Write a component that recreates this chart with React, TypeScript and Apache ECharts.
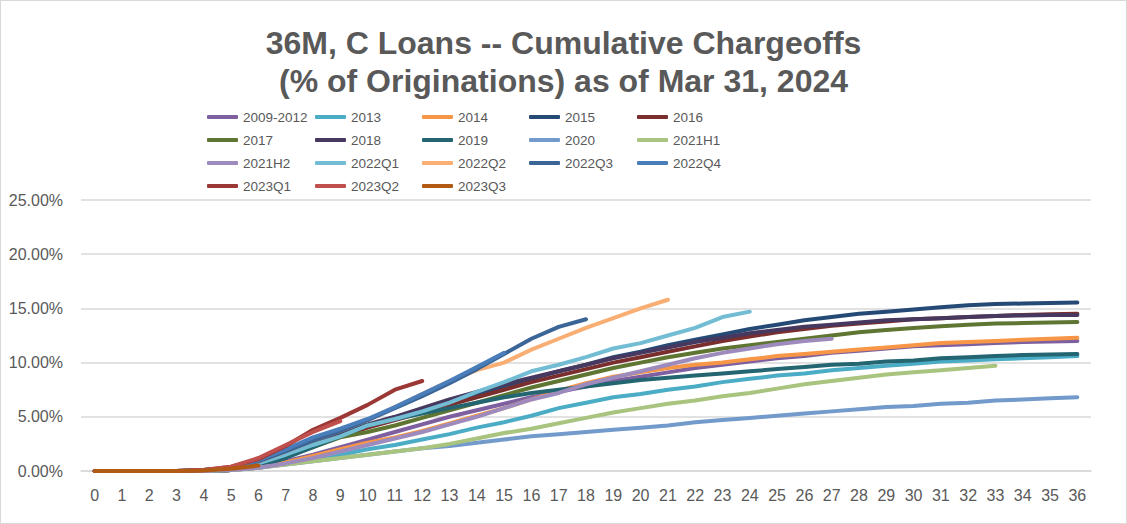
import React, { useEffect, useRef } from "react";
import * as echarts from "echarts";

const months = Array.from({ length: 37 }, (_, i) => String(i));
const yTicks = [0, 5, 10, 15, 20, 25];

const s2009_2012 = [0,0,0,0,0,0.1,0.4,0.9,1.5,2.2,2.9,3.6,4.3,5.0,5.6,6.2,6.8,7.3,7.8,8.3,8.7,9.1,9.5,9.8,10.1,10.4,10.6,10.9,11.1,11.3,11.5,11.6,11.7,11.8,11.9,11.95,12.0];
const s2013 = [0,0,0,0,0,0.1,0.3,0.7,1.1,1.5,2.0,2.4,2.9,3.4,4.0,4.5,5.1,5.8,6.3,6.8,7.1,7.5,7.8,8.2,8.5,8.8,9.0,9.3,9.5,9.7,9.9,10.1,10.2,10.3,10.4,10.5,10.6];
const s2014 = [0,0,0,0,0,0.1,0.3,0.8,1.4,2.0,2.6,3.1,3.7,4.4,5.1,5.8,6.6,7.4,8.1,8.7,9.1,9.5,9.8,10.0,10.3,10.6,10.8,11.0,11.2,11.4,11.6,11.8,11.9,12.0,12.1,12.2,12.3];
const s2015 = [0,0,0,0,0,0.1,0.5,1.4,2.4,3.4,4.2,4.9,5.7,6.4,7.1,7.8,8.5,9.2,9.8,10.5,11.0,11.6,12.1,12.6,13.1,13.5,13.9,14.2,14.5,14.7,14.9,15.1,15.3,15.4,15.45,15.5,15.55];
const s2016 = [0,0,0,0,0,0.1,0.5,1.4,2.3,3.2,4.0,4.7,5.4,6.1,6.8,7.5,8.2,8.8,9.4,10.0,10.5,11.0,11.5,12.0,12.4,12.8,13.1,13.4,13.6,13.8,14.0,14.1,14.2,14.3,14.4,14.45,14.5];
const s2017 = [0,0,0,0,0,0.1,0.5,1.3,2.2,3.1,3.6,4.2,4.9,5.6,6.3,7.0,7.7,8.3,8.9,9.5,10.0,10.5,10.9,11.3,11.6,11.9,12.2,12.5,12.8,13.0,13.2,13.35,13.5,13.6,13.65,13.7,13.75];
const s2018 = [0,0,0,0,0,0.1,0.6,1.6,2.6,3.6,4.3,5.0,5.8,6.6,7.3,8.0,8.6,9.2,9.8,10.4,10.9,11.4,11.9,12.3,12.7,13.0,13.3,13.5,13.7,13.9,14.0,14.1,14.2,14.3,14.35,14.4,14.4];
const s2019 = [0,0,0,0,0,0.1,0.4,1.2,2.2,3.2,4.2,4.8,5.3,5.8,6.3,6.8,7.2,7.5,7.8,8.1,8.4,8.6,8.8,9.0,9.2,9.4,9.6,9.8,9.9,10.1,10.2,10.4,10.5,10.6,10.7,10.75,10.8];
const s2020 = [0,0,0,0,0,0.1,0.3,0.6,0.9,1.2,1.5,1.8,2.1,2.3,2.6,2.9,3.2,3.4,3.6,3.8,4.0,4.2,4.5,4.7,4.9,5.1,5.3,5.5,5.7,5.9,6.0,6.2,6.3,6.5,6.6,6.7,6.8];
const s2021H1 = [0,0,0,0,0,0.1,0.3,0.6,0.9,1.2,1.5,1.8,2.1,2.5,3.0,3.5,3.9,4.4,4.9,5.4,5.8,6.2,6.5,6.9,7.2,7.6,8.0,8.3,8.6,8.9,9.1,9.3,9.5,9.7];
const s2021H2 = [0,0,0,0,0,0.1,0.3,0.7,1.2,1.8,2.4,3.0,3.6,4.3,5.0,5.8,6.6,7.2,8.0,8.6,9.2,9.8,10.4,10.9,11.3,11.7,12.0,12.2];
const s2022Q1 = [0,0,0,0,0.1,0.2,0.7,1.5,2.4,3.2,4.2,4.8,5.5,6.3,7.3,8.2,9.2,9.8,10.5,11.3,11.8,12.5,13.2,14.2,14.7];
const s2022Q2 = [0,0,0,0,0.1,0.3,0.9,1.8,2.8,3.7,4.7,5.9,7.1,8.3,9.3,10.0,11.2,12.2,13.2,14.1,15.0,15.8];
const s2022Q3 = [0,0,0,0,0.1,0.3,0.9,1.8,2.8,3.7,4.7,5.8,6.9,8.1,9.4,10.8,12.2,13.3,14.0];
const s2022Q4 = [0,0,0,0,0.1,0.3,1.0,2.0,3.1,3.9,4.8,5.9,7.1,8.3,9.6,10.9];
const s2023Q1 = [0,0,0,0,0.1,0.4,1.1,2.3,3.8,4.9,6.1,7.5,8.3];
const s2023Q2 = [0,0,0,0,0.1,0.4,1.2,2.4,3.6,4.6];
const s2023Q3 = [0,0,0,0,0.05,0.2,0.5];

const seriesNames = ["2009-2012","2013","2014","2015","2016","2017","2018","2019","2020","2021H1","2021H2","2022Q1","2022Q2","2022Q3","2022Q4","2023Q1","2023Q2","2023Q3"];
const seriesData = [s2009_2012,s2013,s2014,s2015,s2016,s2017,s2018,s2019,s2020,s2021H1,s2021H2,s2022Q1,s2022Q2,s2022Q3,s2022Q4,s2023Q1,s2023Q2,s2023Q3];
const seriesColors = ["#7E60A0","#4BACC6","#F79646","#264A76","#7A2E2D","#5F7532","#46385F","#236570","#729ACA","#A9C47F","#9D8BBE","#72BCD4","#F9AE73","#3A6596","#4A7EBB","#9B3835","#C0504D","#B05A14"];

const FONT = "'Liberation Sans', Arial, sans-serif";
const GREY = "#595959";

export default function App() {
  const ref = useRef<HTMLDivElement>(null);
  useEffect(() => {
    document.body.style.margin = "0";
    const chart = echarts.init(ref.current!, null, { renderer: "svg" });
    const colX = [206, 314, 421, 528, 636];
    const rowY = [117, 140, 163, 186];
    const legends = seriesNames.map((name, i) => ({
      data: [name],
      left: colX[i % 5],
      top: rowY[Math.floor(i / 5)] - 8,
      padding: 0,
      icon: "roundRect",
      itemWidth: 31,
      itemHeight: 4,
      itemGap: 0,
      selectedMode: false,
      textStyle: { color: GREY, fontSize: 13.5, fontFamily: FONT, padding: [0, 0, 0, 0] },
    }));
    chart.setOption({
      animation: false,
      backgroundColor: "#ffffff",
      title: {
        text: "36M, C Loans -- Cumulative Chargeoffs\n(% of Originations) as of Mar 31, 2024",
        left: "center",
        top: 18,
        textStyle: { color: GREY, fontSize: 32, fontWeight: "bold", fontFamily: FONT, lineHeight: 38 },
      },
      legend: legends,
      grid: { left: 80, right: 35, top: 199, bottom: 52 },
      xAxis: {
        type: "category",
        data: months,
        boundaryGap: true,
        axisLine: { lineStyle: { color: "#d9d9d9", width: 1.5 } },
        axisTick: { show: false },
        axisLabel: { color: GREY, fontSize: 16, fontFamily: FONT, margin: 16, interval: 0 },
      },
      yAxis: {
        type: "value",
        min: yTicks[0],
        max: yTicks[yTicks.length - 1],
        interval: 5,
        axisLine: { show: false },
        axisTick: { show: false },
        splitLine: { lineStyle: { color: "#d9d9d9", width: 1.5 } },
        axisLabel: { color: GREY, fontSize: 16, fontFamily: FONT, margin: 18, formatter: (v: number) => v.toFixed(2) + "%" },
      },
      series: seriesNames.map((name, i) => ({
        name,
        type: "line",
        data: seriesData[i],
        showSymbol: false,
        symbol: "none",
        smooth: false,
        color: seriesColors[i],
        lineStyle: { width: 4, color: seriesColors[i], cap: "round", join: "round" },
      })),
    });
    return () => chart.dispose();
  }, []);
  return (
    <div
      ref={ref}
      style={{ width: 1127, height: 524, border: "1px solid #d9d9d9", boxSizing: "border-box" }}
    />
  );
}
